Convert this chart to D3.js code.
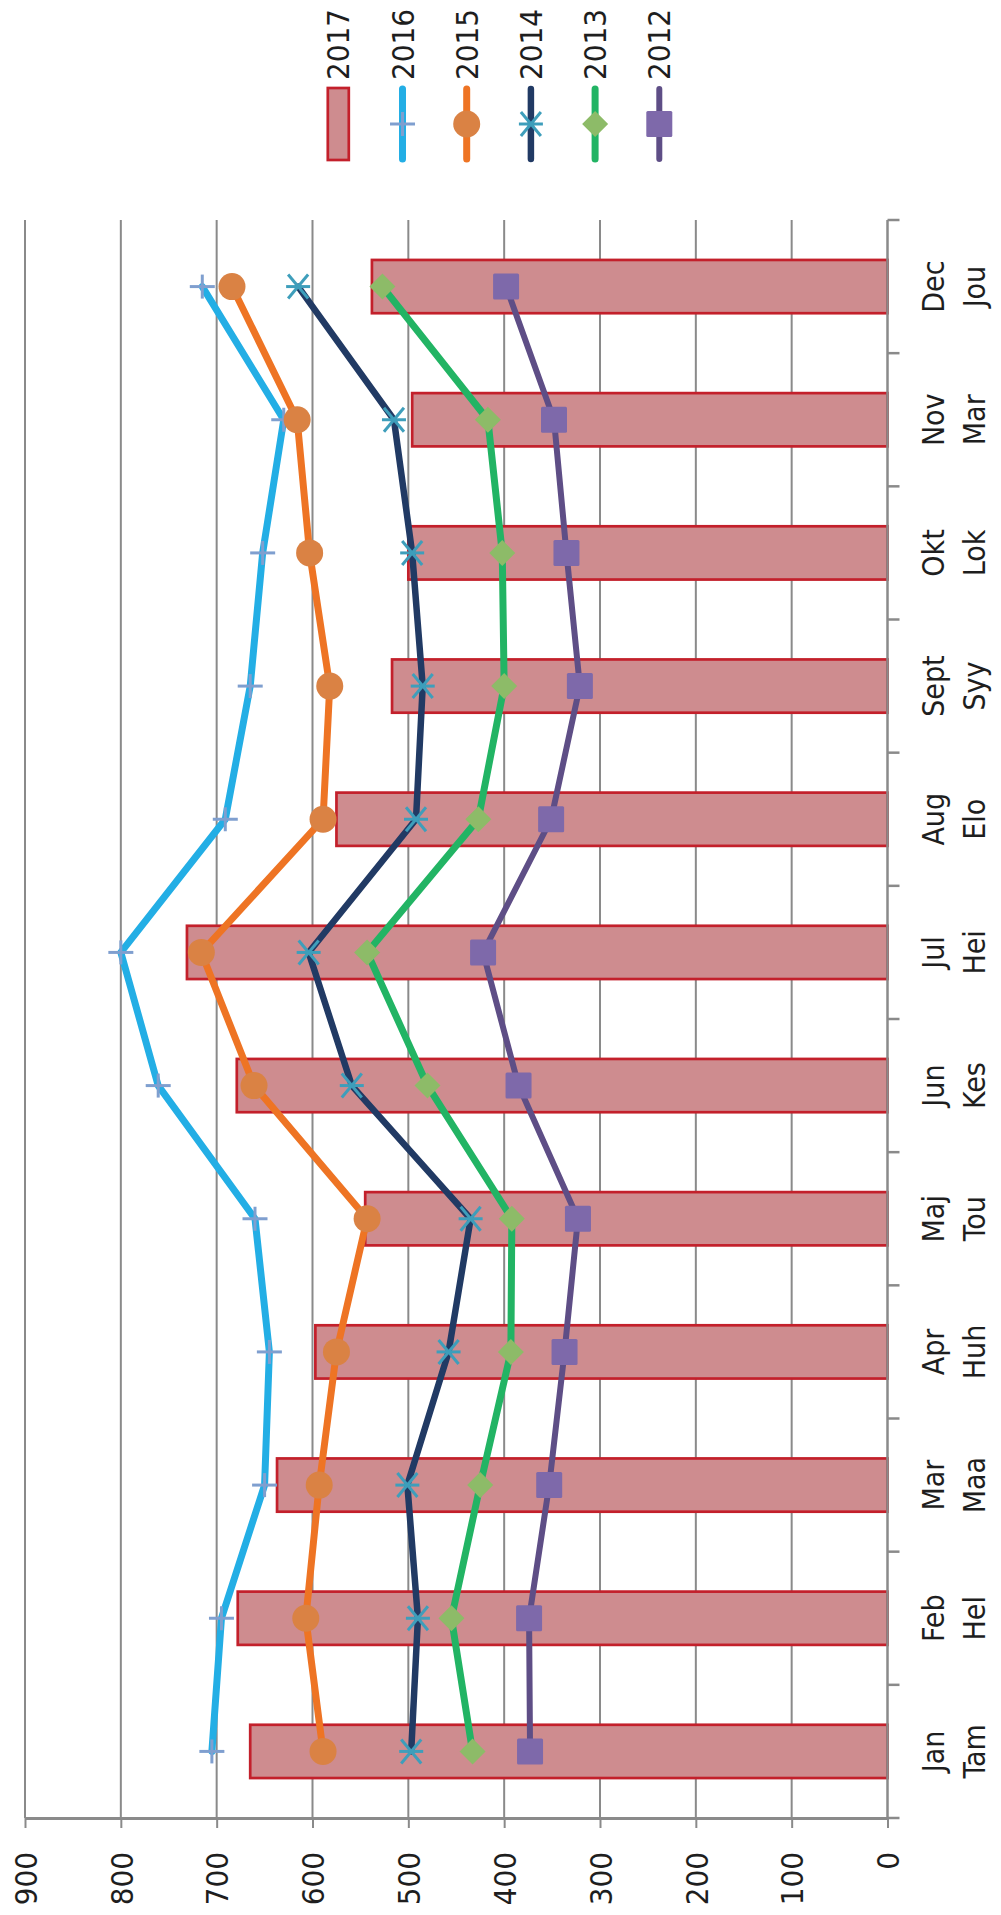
<!DOCTYPE html>
<html><head><meta charset="utf-8">
<script src="https://cdn.jsdelivr.net/npm/d3@7"></script>
<style>html,body{margin:0;padding:0;background:#fff;} svg{display:block;} text{font-stretch:condensed;}</style>
</head><body><div id="chart"></div>
<script>
// ---------- data ----------
const months   = ["Jan","Feb","Mar","Apr","Maj","Jun","Jul","Aug","Sept","Okt","Nov","Dec"];
const monthsFi = ["Tam","Hel","Maa","Huh","Tou","Kes","Hei","Elo","Syy","Lok","Mar","Jou"];
const years = ["2017","2016","2015","2014","2013","2012"];
const v2017 = [665,678,637,597,545,679,731,575,517,500,496,538];
const v2016 = [705,695,650,645,660,761,800,691,665,652,630,715];
const v2015 = [589,607,593,575,543,661,716,589,582,603,616,684];
const v2014 = [497,490,501,458,435,559,604,492,485,496,515,615];
const v2013 = [433,455,425,393,392,480,543,427,400,402,417,527];
const v2012 = [373,374,353,337,323,385,422,351,321,335,348,398];
const valueTicks = [0,100,200,300,400,500,600,700,800,900];

// ---------- setup ----------
const W = 1001, H = 1915;
const FONT = "'DejaVu Sans Condensed', 'DejaVu Sans', sans-serif";
const TXT = "#1e1e1e", GRID = "#8a8a8a";
const svg = d3.select("#chart").append("svg").attr("width", W).attr("height", H)
  .style("font-family", FONT);
svg.append("rect").attr("width", W).attr("height", H).attr("fill", "#fff");

const plotTop = 220, plotBottom = 1818;
const x = d3.scaleLinear().domain([0, 900]).range([887.5, 25]);
const y = d3.scaleBand().domain(months).range([plotBottom, plotTop]);
const bw = y.bandwidth();
const yc = m => y(m) + bw / 2;

// gridlines
svg.append("g").selectAll("line").data(valueTicks.filter(v => v > 0)).join("line")
  .attr("x1", d => x(d)).attr("x2", d => x(d))
  .attr("y1", plotTop).attr("y2", plotBottom)
  .attr("stroke", GRID).attr("stroke-width", 2);

// bars (2017)
const barH = bw * 0.4;
svg.append("g").selectAll("rect").data(months.map((m, i) => ({m, v: v2017[i]}))).join("rect")
  .attr("x", d => x(d.v)).attr("width", d => x(0) - x(d.v))
  .attr("y", d => yc(d.m) - barH / 2).attr("height", barH)
  .attr("fill", "#ce8c8f").attr("stroke", "#c3202b").attr("stroke-width", 2.7);

// value axis (bottom)
const ax = svg.append("g").attr("transform", `translate(0,${plotBottom})`)
  .call(d3.axisBottom(x).tickValues(valueTicks).tickSize(10).tickSizeOuter(0));
ax.select(".domain").attr("stroke", GRID).attr("stroke-width", 3);
ax.selectAll(".tick line").attr("stroke", GRID).attr("stroke-width", 2);
ax.selectAll(".tick text")
  .attr("x", 0).attr("y", 0).attr("dy", "0.36em")
  .attr("transform", "translate(0,34) rotate(-90)")
  .attr("text-anchor", "end")
  .attr("fill", TXT).style("font-size", "31px").style("font-family", FONT);

// category axis (right side, vertical)
const x0 = x(0);
svg.append("line").attr("x1", x0).attr("x2", x0).attr("y1", plotTop).attr("y2", plotBottom)
  .attr("stroke", GRID).attr("stroke-width", 2.5);
const bounds = months.map(m => y(m)).concat([y.range()[0]]);
svg.append("g").selectAll("line").data(bounds).join("line")
  .attr("x1", x0).attr("x2", x0 + 12).attr("y1", d => d).attr("y2", d => d)
  .attr("stroke", GRID).attr("stroke-width", 2.5);
const cl = svg.append("g").selectAll("text").data(months.map((m, i) => ({m, fi: monthsFi[i]}))).join("text")
  .attr("transform", d => `translate(${x0},${yc(d.m)}) rotate(-90)`)
  .attr("text-anchor", "middle").attr("fill", TXT).style("font-size", "30px");
cl.append("tspan").attr("x", 0).attr("y", 56).text(d => d.m);
cl.append("tspan").attr("x", 0).attr("y", 97.5).text(d => d.fi);

// ---------- marker drawing ----------
function drawMarker(g, type, cx, cy) {
  if (type === "plus") {
    g.append("line").attr("x1", cx - 12.5).attr("x2", cx + 12.5).attr("y1", cy).attr("y2", cy)
      .attr("stroke", "#7f9fcf").attr("stroke-width", 3);
    g.append("line").attr("x1", cx).attr("x2", cx).attr("y1", cy - 12).attr("y2", cy + 12)
      .attr("stroke", "#7f9fcf").attr("stroke-width", 3);
  } else if (type === "circle") {
    g.append("circle").attr("cx", cx).attr("cy", cy).attr("r", 13.5).attr("fill", "#da8244");
  } else if (type === "star") {
    const s = "#3e9ebb";
    g.append("line").attr("x1", cx - 12).attr("x2", cx + 12).attr("y1", cy).attr("y2", cy).attr("stroke", s).attr("stroke-width", 3);
    g.append("line").attr("x1", cx - 10).attr("x2", cx + 10).attr("y1", cy - 12).attr("y2", cy + 12).attr("stroke", s).attr("stroke-width", 3);
    g.append("line").attr("x1", cx - 10).attr("x2", cx + 10).attr("y1", cy + 12).attr("y2", cy - 12).attr("stroke", s).attr("stroke-width", 3);
  } else if (type === "diamond") {
    g.append("path").attr("d", `M${cx},${cy - 13}L${cx + 13},${cy}L${cx},${cy + 13}L${cx - 13},${cy}Z`).attr("fill", "#8dbb68");
  } else if (type === "square") {
    g.append("rect").attr("x", cx - 13).attr("y", cy - 13).attr("width", 26).attr("height", 26)
      .attr("rx", 1.5).attr("fill", "#7e69aa");
  }
}

const lineSeries = [
  {name: "2016", values: v2016, color: "#23aee5", marker: "plus", w: 7},
  {name: "2015", values: v2015, color: "#ee7424", marker: "circle", w: 7},
  {name: "2014", values: v2014, color: "#213a64", marker: "star", w: 6.5},
  {name: "2013", values: v2013, color: "#22b464", marker: "diamond", w: 7},
  {name: "2012", values: v2012, color: "#5e4e86", marker: "square", w: 6},
];

const lineGen = d3.line().x(d => x(d.v)).y(d => yc(d.m));
lineSeries.forEach(s => {
  const pts = months.map((m, i) => ({m, v: s.values[i]}));
  const g = svg.append("g");
  g.append("path").attr("d", lineGen(pts)).attr("fill", "none")
    .attr("stroke", s.color).attr("stroke-width", s.w)
    .attr("stroke-linejoin", "round").attr("stroke-linecap", "round");
  pts.forEach(p => drawMarker(g, s.marker, x(p.v), yc(p.m)));
});

// ---------- legend ----------
const legX0 = 338.3, legStep = 64.2;
years.forEach((yr, i) => {
  const cx = legX0 + i * legStep;
  const g = svg.append("g");
  g.append("text").attr("transform", `translate(${cx},80) rotate(-90)`)
    .attr("dy", "0.36em").attr("text-anchor", "start").attr("fill", TXT)
    .style("font-size", "31px").text(yr);
  if (i === 0) {
    g.append("rect").attr("x", cx - 10.5).attr("y", 88).attr("width", 21).attr("height", 72)
      .attr("fill", "#ce8c8f").attr("stroke", "#c3202b").attr("stroke-width", 2.7);
  } else {
    const s = lineSeries[i - 1];
    g.append("line").attr("x1", cx).attr("x2", cx).attr("y1", 89).attr("y2", 159)
      .attr("stroke", s.color).attr("stroke-width", s.w).attr("stroke-linecap", "round");
    drawMarker(g, s.marker, cx, 124);
  }
});
</script>
</body></html>
